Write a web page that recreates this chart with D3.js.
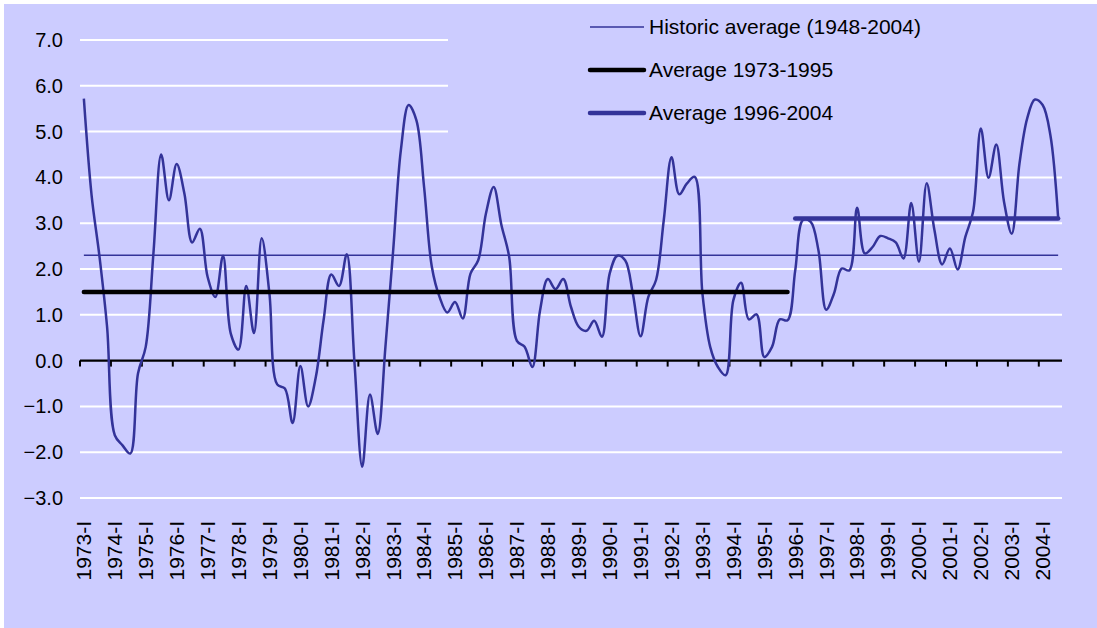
<!DOCTYPE html>
<html>
<head>
<meta charset="utf-8">
<script src="https://cdn.jsdelivr.net/npm/d3@7"></script>
<style>
    body { margin: 0; background: #ffffff; }
    text { font-family: "Liberation Sans", Arial, sans-serif; fill: #000; }
</style>
</head>
<body>
<svg id="chart" width="1097" height="628"></svg>
<script>
let years = [1973, 1974, 1975, 1976, 1977, 1978, 1979, 1980, 1981, 1982, 1983, 1984, 1985, 1986, 1987, 1988,
    1989, 1990, 1991, 1992, 1993, 1994, 1995, 1996, 1997, 1998, 1999, 2000, 2001, 2002, 2003, 2004];
let quarters = ["I", "II", "III", "IV"];

// quarterly values, 1973-I to 2004-III
let values = [
    5.72, 3.61, 2.30, 0.74, -1.63, -1.85, -2.03, -0.28,
    0.30, 2.35, 4.50, 3.50, 4.29, 3.65, 2.58, 2.88,
    1.83, 1.39, 2.29, 0.59, 0.24, 1.63, 0.60, 2.67,
    1.46, -0.52, -0.61, -1.36, -0.12, -1.00, -0.36, 0.88,
    1.88, 1.63, 2.32, -0.05, -2.32, -0.74, -1.60, 0.30,
    2.40, 4.60, 5.58, 5.25, 3.79, 2.05, 1.39, 1.05,
    1.28, 0.92, 1.90, 2.19, 3.21, 3.79, 2.96, 2.27,
    0.43, 0.30, -0.14, 1.10, 1.78, 1.56, 1.78, 1.17,
    0.74, 0.65, 0.87, 0.52, 1.90, 2.29, 2.19, 1.46,
    0.53, 1.39, 1.76, 3.07, 4.44, 3.63, 3.87, 4.01,
    1.46, 0.30, -0.14, -0.32, 1.32, 1.70, 0.90, 1.01,
    0.08, 0.30, 0.90, 0.88, 1.97, 3.07, 3.03, 2.41,
    1.11, 1.46, 2.01, 1.97, 3.34, 2.34, 2.48, 2.72,
    2.67, 2.58, 2.23, 3.44, 2.16, 3.87, 2.85, 2.10,
    2.45, 1.99, 2.70, 3.25, 5.07, 3.99, 4.72, 3.47,
    2.77, 4.30, 5.29, 5.70, 5.58, 4.92, 3.12
];

let yTicks = [-3, -2, -1, 0, 1, 2, 3, 4, 5, 6, 7];

let averages = [
    { name: "Historic average (1948-2004)", value: 2.3, from: "1973-I", to: "2004-III" },
    { name: "Average 1973-1995", value: 1.5, from: "1973-I", to: "1995-IV" },
    { name: "Average 1996-2004", value: 3.1, from: "1996-I", to: "2004-III" }
];
let avgStyles = [
    { color: "#333399", width: 1.5, cap: "butt" },
    { color: "#000000", width: 4.5, cap: "round" },
    { color: "#333399", width: 4.5, cap: "round" }
];

let categories = [];
years.forEach(y => quarters.forEach(q => categories.push(y + "-" + q)));
categories = categories.slice(0, values.length);

let data = values.map((v, i) => ({ cat: categories[i], v: v }));

const svg = d3.select("#chart");

svg.append("rect")
    .attr("x", 4).attr("y", 4)
    .attr("width", 1093).attr("height", 624)
    .attr("fill", "#CCCCFF");

const x = d3.scaleBand().domain(categories).range([80, 1062]).paddingInner(0).paddingOuter(0);
const y = d3.scaleLinear().domain([-3, 7]).range([498, 40]);
const cx = (c) => x(c) + x.bandwidth() / 2;

// gridlines
svg.append("g")
    .selectAll("line")
    .data(yTicks.filter(t => t !== 0))
    .join("line")
    .attr("x1", 80).attr("x2", 1062)
    .attr("y1", d => y(d)).attr("y2", d => y(d))
    .attr("stroke", "#ffffff")
    .attr("stroke-width", 2);

// y labels
svg.append("g")
    .selectAll("text")
    .data(yTicks)
    .join("text")
    .attr("x", 63)
    .attr("y", d => y(d))
    .attr("dy", "0.35em")
    .attr("text-anchor", "end")
    .style("font-size", "20px")
    .text(d => d3.format(".1f")(d));

// legend box hides the gridlines behind it
svg.append("rect")
    .attr("x", 448).attr("y", 14)
    .attr("width", 620).attr("height", 140)
    .attr("fill", "#CCCCFF");

// zero axis with ticks every 4 quarters
svg.append("line")
    .attr("x1", 80).attr("x2", 1062)
    .attr("y1", y(0)).attr("y2", y(0))
    .attr("stroke", "#000").attr("stroke-width", 2.3);

let tickCats = categories.filter((c, i) => i % 4 === 0);
svg.append("g")
    .selectAll("line")
    .data(tickCats)
    .join("line")
    .attr("x1", d => x(d)).attr("x2", d => x(d))
    .attr("y1", y(0)).attr("y2", y(0) + 6)
    .attr("stroke", "#000").attr("stroke-width", 2);

// x labels
svg.append("g")
    .selectAll("text")
    .data(tickCats)
    .join("text")
    .attr("transform", d => `translate(${cx(d)}, 521) rotate(-90)`)
    .attr("dy", "0.35em")
    .attr("text-anchor", "end")
    .style("font-size", "21px")
    .text(d => d);

// series
const line = d3.line()
    .x(d => cx(d.cat))
    .y(d => y(d.v))
    .curve(d3.curveCatmullRom.alpha(0.5));

svg.append("path")
    .datum(data)
    .attr("d", line)
    .attr("fill", "none")
    .attr("stroke", "#333399")
    .attr("stroke-width", 2.5);

svg.append("g")
    .selectAll("line")
    .data(averages)
    .join("line")
    .attr("x1", d => cx(d.from)).attr("x2", d => cx(d.to))
    .attr("y1", d => y(d.value)).attr("y2", d => y(d.value))
    .attr("stroke", (d, i) => avgStyles[i].color)
    .attr("stroke-width", (d, i) => avgStyles[i].width)
    .attr("stroke-linecap", (d, i) => avgStyles[i].cap);

// legend
let leg = svg.append("g")
    .selectAll("g")
    .data(averages)
    .join("g")
    .attr("transform", (d, i) => `translate(0, ${27 + i * 43})`);

leg.append("line")
    .attr("x1", 590).attr("x2", 644)
    .attr("y1", 0).attr("y2", 0)
    .attr("stroke", (d, i) => avgStyles[i].color)
    .attr("stroke-width", (d, i) => avgStyles[i].width)
    .attr("stroke-linecap", (d, i) => avgStyles[i].cap);

leg.append("text")
    .attr("x", 649)
    .attr("y", 0)
    .attr("dy", "0.35em")
    .style("font-size", "21px")
    .text(d => d.name);
</script>
</body>
</html>
